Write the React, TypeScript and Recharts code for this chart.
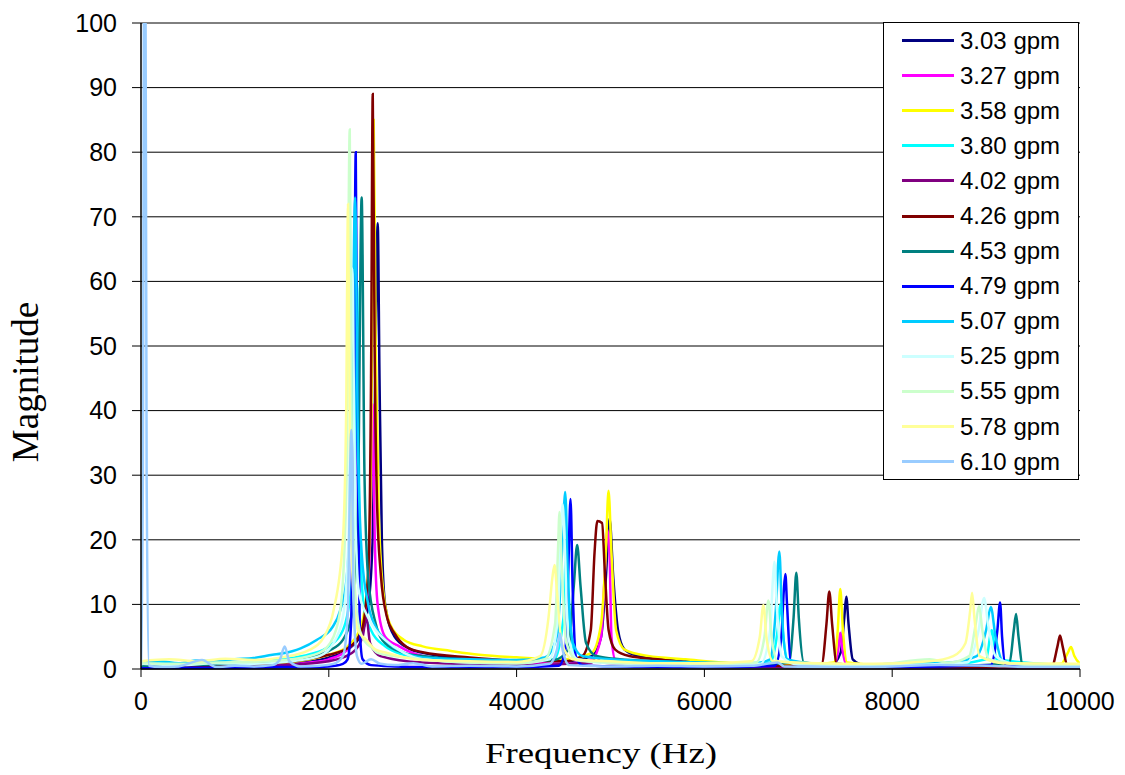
import React from "react";
import {
  LineChart,
  Line,
  XAxis,
  YAxis,
  CartesianGrid,
  Legend,
} from "recharts";

// frequency (Hz), magnitude pairs
const s303: [number, number][] = [
  [0, 0.3], [500, 0.4], [1000, 0.5], [1500, 0.8], [1800, 1.2], [2000, 1.8], [2200, 3], [2350, 5.5],
  [2430, 11], [2470, 22], [2495, 45], [2521, 69], [2540, 45], [2565, 20], [2600, 10], [2700, 5],
  [2850, 3.2], [3000, 2.5], [3500, 1.6], [4000, 1.3], [4500, 1.2], [4800, 2], [4900, 5], [4950, 14],
  [4990, 23.3], [5030, 14], [5080, 6], [5150, 3], [5300, 2], [5600, 1.5], [6000, 1], [6500, 0.6],
  [7000, 0.5], [7350, 0.6], [7450, 2.5], [7490, 8], [7511, 11.2], [7535, 7], [7580, 1.5], [7700, 0.6],
  [8000, 0.4], [9000, 0.3], [10000, 0.2],
];
const s327: [number, number][] = [
  [0, 0.2], [500, 0.3], [1000, 0.4], [1500, 0.6], [1800, 1], [2000, 1.5], [2200, 3], [2330, 6],
  [2400, 10], [2440, 20], [2468, 41], [2490, 20], [2520, 10], [2600, 5], [2750, 3.5], [3000, 2],
  [3500, 1.2], [4000, 1], [4500, 0.8], [4800, 1.5], [4900, 5], [4940, 15], [4968, 21.5], [4990, 18],
  [5010, 5], [5050, 1.5], [5300, 1], [6000, 0.5], [7000, 0.4], [7380, 0.6], [7430, 3.5], [7447, 5.6],
  [7470, 3], [7520, 0.5], [8000, 0.3], [9000, 0.2], [10000, 0.2],
];
const s358: [number, number][] = [
  [0, 0.5], [500, 0.6], [1000, 0.8], [1500, 1], [1800, 1.5], [2000, 2.2], [2200, 3.5], [2350, 7],
  [2420, 15], [2455, 40], [2478, 85], [2500, 50], [2530, 25], [2580, 12], [2650, 7], [2800, 4.5],
  [3000, 3.5], [3300, 2.8], [3600, 2.2], [4000, 1.8], [4500, 1.5], [4800, 2.5], [4900, 7], [4950, 18],
  [4979, 27.6], [5010, 18], [5060, 6], [5150, 3], [5400, 2], [5800, 1.5], [6200, 1], [7000, 0.6],
  [7380, 1], [7420, 6], [7447, 12.4], [7475, 6], [7520, 1], [8000, 0.5], [9000, 0.5], [9800, 0.8],
  [9870, 2.5], [9904, 3.4], [9940, 2], [10000, 0.8],
];
const s380: [number, number][] = [
  [0, 0.8], [500, 0.9], [1000, 1], [1500, 1.5], [1800, 2.3], [2000, 3.5], [2150, 6], [2250, 14],
  [2300, 60], [2330, 20], [2380, 9], [2450, 6], [2600, 3.5], [2800, 2.2], [3000, 1.6], [3500, 1.3],
  [4000, 1.1], [4400, 1.5], [4500, 8], [4530, 20], [4560, 8], [4650, 1.5], [5000, 1], [6000, 0.8],
  [6700, 1], [6780, 6], [6810, 10], [6840, 5], [6900, 1], [7500, 0.6], [8500, 0.6], [9000, 1.5],
  [9060, 6], [9110, 1.5], [10000, 0.5],
];
const s402: [number, number][] = [
  [0, 0.3], [500, 0.3], [1000, 0.4], [1500, 0.6], [2000, 1.2], [2250, 2.5], [2360, 5], [2400, 8],
  [2440, 4], [2550, 2], [3000, 1], [4000, 0.6], [4800, 1], [4850, 2], [4900, 1], [6000, 0.4],
  [7000, 0.3], [8000, 0.3], [10000, 0.2],
];
const s426: [number, number][] = [
  [0, 0.3], [500, 0.4], [1000, 0.6], [1500, 1], [1800, 1.6], [2000, 2.2], [2200, 3.2], [2350, 6],
  [2420, 15], [2450, 45], [2468, 89], [2488, 50], [2515, 25], [2553, 14.8], [2620, 8], [2700, 5.5],
  [2830, 3.4], [3000, 2.6], [3500, 1.8], [4000, 1.3], [4500, 1.2], [4700, 2], [4790, 6], [4830, 18],
  [4860, 22.9], [4910, 22.6], [4940, 15], [4980, 6], [5050, 3], [5200, 2], [5500, 1.5], [6000, 0.8],
  [7000, 0.5], [7250, 0.8], [7300, 7], [7330, 12], [7360, 7], [7410, 0.8], [8000, 0.4], [9000, 0.3],
  [9700, 0.4], [9760, 3.5], [9787, 5.2], [9815, 3.5], [9870, 0.4], [10000, 0.3],
];
const s453: [number, number][] = [
  [0, 0.5], [500, 0.6], [1000, 0.8], [1500, 1.2], [1800, 1.8], [2000, 2.8], [2150, 4.5], [2250, 9],
  [2310, 25], [2350, 73], [2380, 30], [2420, 14], [2500, 7], [2600, 4], [2800, 2.5], [3000, 2],
  [3500, 1.4], [4000, 1.2], [4400, 1.4], [4550, 3], [4610, 13], [4645, 19.2], [4680, 13], [4740, 4],
  [4850, 2], [5100, 1.5], [5500, 1.2], [6000, 0.9], [6500, 0.6], [6900, 1], [6950, 8], [6979, 14.9],
  [7005, 8], [7060, 1], [7500, 0.5], [8000, 0.4], [8800, 0.5], [9250, 1], [9295, 6], [9319, 8.5],
  [9345, 5], [9390, 0.6], [10000, 0.4],
];
const s479: [number, number][] = [
  [0, 0.1], [500, 0.2], [1000, 0.2], [1500, 0.3], [1800, 0.3], [2000, 0.4], [2150, 0.8], [2200, 1.5],
  [2240, 8], [2265, 35], [2287, 80], [2305, 35], [2330, 6], [2360, 1.5], [2450, 0.6], [2700, 0.4],
  [3000, 0.3], [3500, 0.3], [4000, 0.3], [4450, 0.5], [4520, 3], [4550, 15], [4574, 26.3], [4598, 12],
  [4630, 2], [4700, 0.6], [5000, 0.4], [6000, 0.3], [6750, 0.5], [6820, 5], [6845, 12], [6862, 14.7],
  [6880, 10], [6920, 1], [7200, 0.4], [8000, 0.3], [9050, 0.6], [9120, 6], [9149, 10.3], [9170, 5],
  [9210, 0.5], [10000, 0.3],
];
const s507: [number, number][] = [
  [0, 1], [200, 1.2], [400, 0.9], [600, 1.3], [800, 1.2], [1000, 1.5], [1200, 1.7], [1400, 2.2],
  [1500, 2.4], [1700, 3.2], [1870, 4.5], [2040, 6.5], [2120, 9], [2190, 14], [2240, 30], [2280, 73],
  [2310, 35], [2350, 18], [2420, 10], [2500, 6.5], [2600, 4.5], [2800, 2.5], [3000, 1.8], [3500, 1.5],
  [4000, 1.4], [4300, 1.8], [4430, 5], [4490, 20], [4518, 27.4], [4545, 15], [4600, 4], [4700, 2],
  [5000, 1.5], [5500, 1.2], [6000, 1], [6500, 0.8], [6700, 1.5], [6760, 9], [6798, 18.2], [6825, 9],
  [6880, 1.5], [7200, 0.8], [7600, 0.6], [8000, 0.8], [8600, 1], [8900, 2], [9000, 6], [9050, 9.6],
  [9100, 5], [9180, 1.2], [9500, 0.6], [10000, 0.5],
];
const s525: [number, number][] = [
  [0, 0.8], [400, 0.6], [800, 0.9], [1200, 0.8], [1600, 1.2], [1900, 2], [2050, 4], [2150, 8],
  [2210, 20], [2250, 62], [2280, 25], [2320, 12], [2400, 8.5], [2500, 6], [2600, 4.5], [2800, 2.5],
  [3000, 1.5], [3500, 1], [4000, 0.9], [4350, 1.5], [4440, 8], [4470, 20], [4490, 25.5], [4510, 20],
  [4550, 5], [4650, 1.5], [5000, 0.9], [5500, 0.8], [6000, 0.7], [6600, 0.8], [6700, 6], [6730, 14],
  [6745, 16.6], [6770, 10], [6820, 2], [7000, 0.7], [8000, 0.6], [8800, 1], [8920, 6], [8979, 11],
  [9020, 7], [9100, 2], [9300, 0.8], [10000, 0.5],
];
const s555: [number, number][] = [
  [0, 0.9], [400, 0.8], [800, 1], [1200, 1.1], [1600, 1.5], [1900, 2.5], [2050, 5], [2130, 10],
  [2190, 30], [2223, 83.5], [2245, 35], [2280, 12], [2330, 6], [2400, 4], [2450, 3.4], [2520, 2.5],
  [2700, 2], [3000, 1.5], [3500, 1], [4000, 0.9], [4300, 1.5], [4410, 7], [4440, 18], [4457, 24.3],
  [4480, 16], [4530, 4], [4650, 1.3], [5000, 1], [5500, 0.8], [6000, 0.8], [6550, 1], [6640, 5],
  [6681, 10.6], [6715, 5], [6780, 1.2], [7200, 0.8], [7800, 0.7], [8400, 1.5], [8600, 1], [8820, 2],
  [8890, 7], [8925, 9.75], [8960, 6], [9030, 1.5], [9400, 0.7], [10000, 0.5],
];
const s578: [number, number][] = [
  [0, 1.2], [300, 1.5], [600, 1.2], [900, 1.6], [1200, 1.4], [1500, 1.8], [1800, 3], [1950, 5],
  [2050, 9], [2150, 20], [2185, 40], [2205, 72], [2225, 35], [2260, 12], [2310, 6], [2400, 4.5],
  [2500, 3], [2620, 2.5], [2800, 1.8], [3000, 1.4], [3500, 1.2], [4000, 1.1], [4250, 2], [4340, 8],
  [4380, 14], [4404, 16.1], [4430, 12], [4480, 4], [4600, 1.5], [5000, 1.2], [5500, 0.9], [6000, 0.9],
  [6500, 1.2], [6590, 5], [6628, 9.9], [6660, 5], [6730, 1.2], [7200, 0.9], [7800, 0.8], [8400, 1.2],
  [8650, 2], [8780, 4], [8830, 9], [8851, 11.8], [8875, 8], [8930, 2], [9200, 0.9], [10000, 0.8],
];
const s610: [number, number][] = [
  [0, 0.5], [20, 30], [40, 150], [60, 30], [85, 0.5], [200, 0.3], [400, 0.4], [650, 1.4],
  [800, 0.3], [1000, 0.5], [1200, 0.4], [1400, 0.6], [1480, 1.5], [1530, 3.5], [1580, 1.2], [1700, 0.4],
  [1900, 0.5], [2050, 0.8], [2150, 2], [2200, 8], [2240, 37], [2265, 10], [2300, 2], [2350, 0.8],
  [2450, 1.5], [2550, 0.8], [2700, 0.6], [2900, 0.9], [3100, 0.4], [3500, 0.5], [4000, 0.4], [4350, 0.8],
  [4430, 3], [4460, 5.5], [4490, 3], [4560, 0.6], [5000, 0.4], [5500, 0.5], [6000, 0.4], [6500, 0.5],
  [6780, 1], [6850, 0.4], [7500, 0.3], [8000, 0.4], [8500, 0.6], [9000, 0.5], [9500, 0.3], [10000, 0.3],
];

const seriesNames = [
  "3.03 gpm", "3.27 gpm", "3.58 gpm", "3.80 gpm", "4.02 gpm", "4.26 gpm", "4.53 gpm",
  "4.79 gpm", "5.07 gpm", "5.25 gpm", "5.55 gpm", "5.78 gpm", "6.10 gpm",
];
const seriesColors = [
  "#000080", "#FF00FF", "#FFFF00", "#00FFFF", "#800080", "#800000", "#008080",
  "#0000FF", "#00CCFF", "#CCFFFF", "#CCFFCC", "#FFFF99", "#99CCFF",
];
const seriesValues = [s303, s327, s358, s380, s402, s426, s453, s479, s507, s525, s555, s578, s610];

const xTicks = [0, 2000, 4000, 6000, 8000, 10000];
const yTicks = [0, 10, 20, 30, 40, 50, 60, 70, 80, 90, 100];

const series = seriesNames.map((name, i) => ({
  name,
  color: seriesColors[i],
  data: seriesValues[i].map(([f, m]) => ({ f, m })),
}));

const tickFont = { fill: "#000", fontSize: 25, fontFamily: "'Liberation Sans', Arial, sans-serif" };

const renderLegend = () => (
  <div
    style={{
      width: 194,
      height: 456,
      border: "1px solid #000",
      background: "#fff",
      fontFamily: "'Liberation Sans', Arial, sans-serif",
      fontSize: 24,
      color: "#000",
    }}
  >
    {series.map((s) => (
      <div key={s.name} style={{ height: 35.1, display: "flex", alignItems: "center" }}>
        <span style={{ display: "inline-block", width: 52, height: 3, marginLeft: 18, background: s.color }} />
        <span style={{ marginLeft: 6, lineHeight: 1 }}>{s.name}</span>
      </div>
    ))}
  </div>
);

const App: React.FC = () => {
  return (
    <div style={{ position: "absolute", left: 0, top: 0, background: "#fff" }}>
      <LineChart
        width={1125}
        height={775}
        margin={{ top: 23, right: 45, bottom: 20, left: 81 }}
      >
        <CartesianGrid vertical={false} stroke="#000" strokeWidth={1} />
        <XAxis
          type="number"
          dataKey="f"
          domain={[0, 10000]}
          ticks={xTicks}
          allowDataOverflow
          height={86}
          tickSize={8}
          tickMargin={15}
          tick={tickFont}
          axisLine={{ stroke: "#000", strokeWidth: 1.5 }}
          tickLine={{ stroke: "#000" }}
          label={() => (
            <text
              x={601}
              y={763}
              textAnchor="middle"
              fontSize={30}
              textLength={232}
              lengthAdjust="spacingAndGlyphs"
              fontFamily="'Liberation Serif', 'Times New Roman', serif"
              fill="#000"
            >
              Frequency (Hz)
            </text>
          )}
        />
        <YAxis
          type="number"
          domain={[0, 100]}
          ticks={yTicks}
          allowDataOverflow
          width={60}
          tickSize={9}
          tickMargin={15}
          tick={tickFont}
          axisLine={{ stroke: "#000", strokeWidth: 1.5 }}
          tickLine={{ stroke: "#000" }}
          label={() => (
            <text
              x={25}
              y={382}
              transform="rotate(-90, 25, 382)"
              textAnchor="middle"
              dominantBaseline="central"
              fontSize={37}
              fontFamily="'Liberation Serif', 'Times New Roman', serif"
              fill="#000"
            >
              Magnitude
            </text>
          )}
        />
        <Legend
          layout="vertical"
          align="center"
          verticalAlign="middle"
          content={renderLegend}
          wrapperStyle={{ left: 883, top: 22, width: 196, height: 458 }}
        />
        {series.map((s) => (
          <Line
            key={s.name}
            data={s.data}
            dataKey="m"
            name={s.name}
            type="monotone"
            stroke={s.color}
            strokeWidth={2.5}
            dot={false}
            activeDot={false}
            isAnimationActive={false}
          />
        ))}
      </LineChart>
    </div>
  );
};

export default App;
